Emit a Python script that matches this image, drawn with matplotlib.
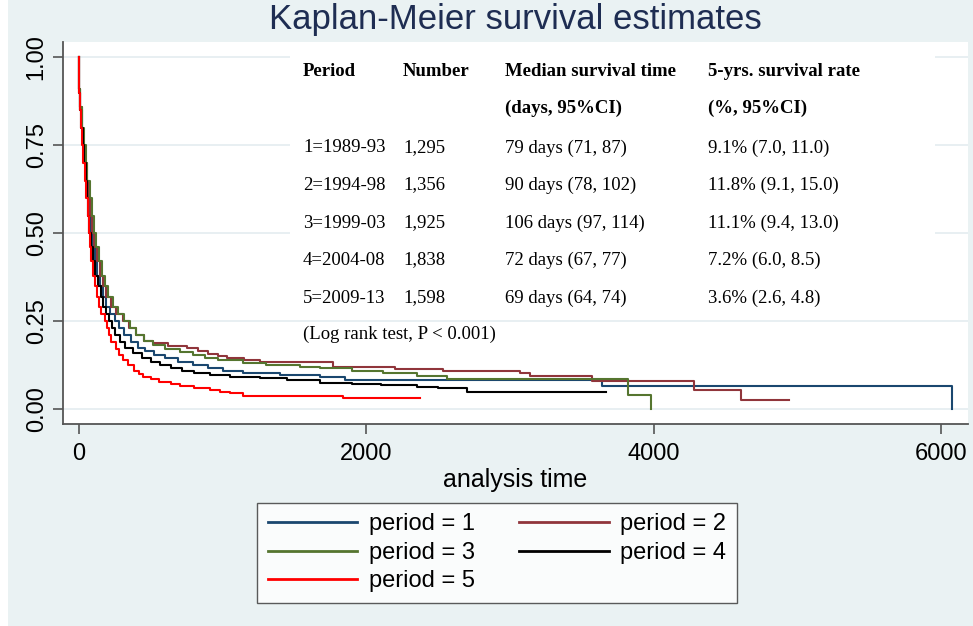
import matplotlib
matplotlib.use('Agg')
import matplotlib.pyplot as plt
from matplotlib.patches import Rectangle

# ---------------- data ----------------
labels = ['period = 1', 'period = 2', 'period = 3', 'period = 4', 'period = 5']
colors = ['#1A476F', '#90353B', '#55752F', '#000000', '#FF0000']

t1 = [0, 2, 8, 18, 28, 38, 50, 62, 70, 79, 92, 110, 128, 145, 165, 190, 215, 250, 280, 315, 360, 410, 460, 520, 600, 690, 796, 900, 1000, 1144, 1400, 1677, 1851, 3638, 6074]
s1 = [1.0, 0.91, 0.85, 0.80, 0.75, 0.70, 0.65, 0.60, 0.55, 0.50, 0.46, 0.42, 0.38, 0.35, 0.32, 0.29, 0.27, 0.25, 0.23, 0.21, 0.19, 0.175, 0.165, 0.155, 0.145, 0.135, 0.126, 0.118, 0.11, 0.102, 0.097, 0.093, 0.083, 0.067, 0.0]

t2 = [0, 2, 8, 20, 30, 42, 55, 68, 78, 90, 105, 125, 145, 165, 190, 225, 260, 310, 350, 400, 450, 517, 620, 750, 830, 900, 970, 1028, 1150, 1260, 1538, 1770, 2200, 2535, 3070, 3139, 3568, 4283, 4608, 4944]
s2 = [1.0, 0.91, 0.86, 0.80, 0.75, 0.70, 0.65, 0.60, 0.55, 0.50, 0.46, 0.42, 0.38, 0.35, 0.32, 0.29, 0.27, 0.25, 0.23, 0.21, 0.195, 0.187, 0.18, 0.173, 0.165, 0.158, 0.15, 0.145, 0.14, 0.135, 0.134, 0.121, 0.115, 0.110, 0.102, 0.095, 0.081, 0.055, 0.026, 0.026]

t3 = [0, 2, 8, 22, 36, 46, 58, 75, 90, 106, 118, 140, 160, 178, 200, 235, 270, 315, 355, 400, 450, 517, 600, 700, 796, 880, 970, 1144, 1300, 1538, 1677, 1900, 2116, 2350, 2559, 3823, 3979]
s3 = [1.0, 0.91, 0.86, 0.80, 0.75, 0.70, 0.65, 0.60, 0.55, 0.50, 0.46, 0.42, 0.38, 0.35, 0.32, 0.29, 0.27, 0.25, 0.23, 0.21, 0.195, 0.182, 0.172, 0.163, 0.154, 0.147, 0.14, 0.131, 0.125, 0.119, 0.116, 0.11, 0.104, 0.095, 0.085, 0.041, 0.0]

t4 = [0, 2, 7, 15, 25, 35, 46, 56, 64, 72, 84, 98, 115, 130, 150, 170, 188, 208, 228, 252, 285, 320, 375, 440, 500, 564, 640, 720, 800, 912, 1050, 1260, 1450, 1677, 1900, 2100, 2350, 2500, 2698, 3668]
s4 = [1.0, 0.90, 0.85, 0.80, 0.75, 0.70, 0.65, 0.60, 0.55, 0.50, 0.46, 0.42, 0.38, 0.35, 0.32, 0.29, 0.27, 0.25, 0.23, 0.21, 0.19, 0.175, 0.16, 0.145, 0.135, 0.126, 0.118, 0.11, 0.104, 0.097, 0.093, 0.088, 0.082, 0.076, 0.072, 0.068, 0.063, 0.060, 0.048, 0.048]

t5 = [0, 1, 3, 7, 14, 22, 30, 40, 52, 60, 69, 78, 86, 98, 110, 125, 140, 155, 178, 192, 207, 226, 255, 280, 309, 340, 385, 420, 448, 500, 560, 640, 700, 800, 912, 980, 1050, 1144, 1840, 2373]
s5 = [1.0, 0.95, 0.90, 0.85, 0.80, 0.75, 0.70, 0.65, 0.60, 0.55, 0.50, 0.46, 0.42, 0.38, 0.35, 0.32, 0.29, 0.27, 0.25, 0.23, 0.21, 0.19, 0.17, 0.155, 0.14, 0.125, 0.11, 0.10, 0.093, 0.085, 0.078, 0.072, 0.066, 0.060, 0.055, 0.050, 0.045, 0.039, 0.033, 0.033]

xticks = [0, 2000, 4000, 6000]
yticks = [0.0, 0.25, 0.5, 0.75, 1.0]
ytick_labels = ['0.00', '0.25', '0.50', '0.75', '1.00']

title = 'Kaplan-Meier survival estimates'
xlabel = 'analysis time'

head1 = ['Period', 'Number', 'Median survival time', '5-yrs. survival rate']
head2 = ['', '', '(days, 95%CI)', '(%, 95%CI)']
tab_period = ['1=1989-93', '2=1994-98', '3=1999-03', '4=2004-08', '5=2009-13']
tab_number = ['1,295', '1,356', '1,925', '1,838', '1,598']
tab_median = ['79 days (71, 87)', '90 days (78, 102)', '106 days (97, 114)', '72 days (67, 77)', '69 days (64, 74)']
tab_rate = ['9.1% (7.0, 11.0)', '11.8% (9.1, 15.0)', '11.1% (9.4, 13.0)', '7.2% (6.0, 8.5)', '3.6% (2.6, 4.8)']
logrank = '(Log rank test, P < 0.001)'

# ---------------- figure ----------------
W, H = 973, 626
BG = '#EAF2F3'
fig = plt.figure(figsize=(W / 100, H / 100), dpi=100, facecolor=BG)
SANS = ['Liberation Sans', 'DejaVu Sans']
SERIF = ['Liberation Serif', 'DejaVu Serif']

def fx(px):
    return px / W

def fy(py):
    return 1 - py / H

# white strip on left edge
fig.patches.append(Rectangle((0, 0), fx(8), 1, transform=fig.transFigure,
                             facecolor='white', edgecolor='none', zorder=0))

ax = fig.add_axes([fx(63), fy(424), fx(968) - fx(63), fy(42) - fy(424)])
ax.set_facecolor('white')
ax.set_xlim(-111, 6187)
ax.set_ylim(-0.0418, 1.0435)

for sp in ['top', 'right']:
    ax.spines[sp].set_visible(False)
for sp in ['left', 'bottom']:
    ax.spines[sp].set_color('#555555')
    ax.spines[sp].set_linewidth(1.3)

ax.set_yticks(yticks)
ax.set_yticklabels(ytick_labels, rotation=90, va='center', family=SANS, fontsize=17)
ax.set_xticks(xticks)
ax.set_xticklabels([str(v) for v in xticks], family=SANS, fontsize=17)
ax.tick_params(axis='both', direction='out', length=7, width=1.2, color='#555555')
ax.tick_params(axis='y', pad=4)
ax.tick_params(axis='x', pad=7)
ax.grid(axis='y', color='#E6EEF1', linewidth=1.3, zorder=0)
ax.set_axisbelow(True)

# white box behind the table (covers grid lines)
ax.add_patch(Rectangle((0.2508, 0.2775), 0.7127, 0.73, transform=ax.transAxes,
                       facecolor='white', edgecolor='none', zorder=1))

series = [(t1, s1), (t2, s2), (t3, s3), (t4, s4), (t5, s5)]
handles = []
for (t, s), c, lab in zip(series, colors, labels):
    h, = ax.plot(t, s, drawstyle='steps-post', color=c, lw=1.5, label=lab, zorder=3)
    handles.append(h)

fig.text(fx(515), fy(20), title, ha='center', va='center', family=SANS,
         fontsize=25, color='#1E2D52')
ax.set_xlabel(xlabel, family=SANS, fontsize=18, labelpad=2)

# table
colx = [303, 403, 505, 708]
for x, h in zip(colx, head1):
    fig.text(fx(x), fy(71), h, ha='left', va='center', family=SERIF,
             fontsize=13.5, fontweight='bold')
for x, h in zip(colx, head2):
    if h:
        fig.text(fx(x), fy(108), h, ha='left', va='center', family=SERIF,
                 fontsize=13.5, fontweight='bold')
rows_y = [148, 185, 223, 260, 298]
for i, y in enumerate(rows_y):
    for x, col in zip(colx, [tab_period, tab_number, tab_median, tab_rate]):
        fig.text(fx(x), fy(y), col[i], ha='left', va='center', family=SERIF,
                 fontsize=13.5)
fig.text(fx(303), fy(334), logrank, ha='left', va='center', family=SERIF, fontsize=13.5)

# legend (row-wise order: 1 2 / 3 4 / 5)
order = [0, 2, 4, 1, 3]
leg = fig.legend([handles[i] for i in order], [labels[i] for i in order],
                 loc='lower left', bbox_to_anchor=(fx(257), fy(603), fx(737) - fx(257), fy(498) - fy(603)),
                 mode='expand', ncol=2, frameon=True, fancybox=False,
                 prop={'family': SANS, 'size': 17}, handlelength=3.8,
                 handletextpad=0.5, columnspacing=1.6, labelspacing=0.28,
                 borderaxespad=0, borderpad=0.45)
leg.get_frame().set_edgecolor('#333333')
leg.get_frame().set_linewidth(1.0)
leg.get_frame().set_facecolor('white')
for ln in leg.get_lines():
    ln.set_linewidth(2.0)

fig.savefig('out.png', dpi=100, facecolor=BG)
